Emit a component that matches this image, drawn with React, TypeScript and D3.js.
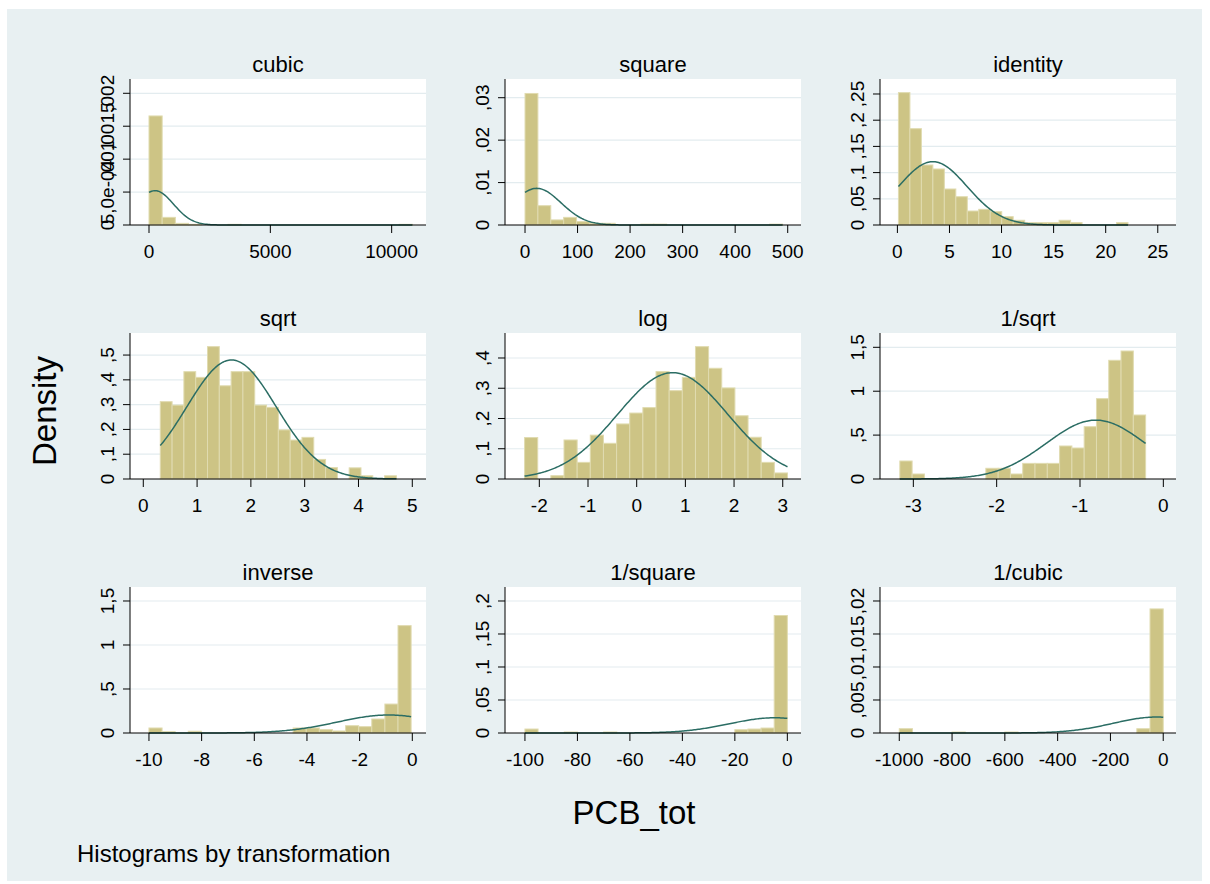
import React from 'react';
import * as d3 from 'd3';

// Panel titles (Stata gladder of PCB_tot)
const titles = ["cubic", "square", "identity", "sqrt", "log", "1/sqrt", "inverse", "1/square", "1/cubic"];

// Data range of each transformed variable (bins span min..max)
const binLo = [0.001, 0.01, 0.1, 0.316, -2.303, -3.162, -10, -100, -1000];
const binHi = [10852, 490.2, 22.14, 4.705, 3.0975, -0.2125, -0.0452, -0.002, -0.0001];

// Bar heights (density), 20 bins per panel
const cubicDensity = [0.001656, 0.000116, 0.000025, 0.00001, 0, 0, 0.00001, 0, 0, 0, 0, 0, 0, 0, 0, 0, 0, 0, 0, 0.00001];
const squareDensity = [0.031, 0.00455, 0.0012, 0.0018, 0.0008, 0.0004, 0.0004, 0, 0, 0.0002, 0.0002, 0, 0, 0, 0, 0, 0, 0, 0, 0.0002];
const identityDensity = [0.2526, 0.1838, 0.1145, 0.1069, 0.0687, 0.054, 0.0267, 0.0299, 0.0254, 0.0159, 0.009, 0.0045, 0.0045, 0.0045, 0.009, 0.0045, 0, 0, 0, 0.0045];
const sqrtDensity = [0.312, 0.298, 0.433, 0.41, 0.534, 0.376, 0.433, 0.433, 0.298, 0.289, 0.198, 0.157, 0.168, 0.079, 0.046, 0, 0.045, 0.013, 0, 0.013];
const logDensity = [0.137, 0, 0.011, 0.129, 0.055, 0.145, 0.118, 0.182, 0.218, 0.236, 0.355, 0.292, 0.336, 0.4375, 0.366, 0.301, 0.209, 0.138, 0.055, 0.02];
const invSqrtDensity = [0.205, 0.057, 0, 0, 0, 0, 0, 0.122, 0.122, 0.057, 0.178, 0.178, 0.178, 0.376, 0.353, 0.596, 0.915, 1.352, 1.458, 0.729];
const inverseDensity = [0.057, 0.015, 0, 0.02, 0, 0, 0, 0, 0, 0, 0, 0.057, 0.057, 0.038, 0.023, 0.083, 0.072, 0.159, 0.329, 1.22];
const invSquareDensity = [0.006, 0, 0, 0.0015, 0, 0, 0.0015, 0, 0, 0, 0, 0, 0, 0, 0, 0, 0.005, 0.006, 0.0075, 0.178];
const invCubicDensity = [0.00065, 0, 0, 0, 0.00015, 0, 0, 0, 0.00015, 0, 0, 0, 0, 0, 0, 0, 0, 0, 0.00065, 0.0188];

// Overlaid normal density: mean and sd per panel
const normalMean = [247, 22.3, 3.4, 1.64, 0.74, -0.81, -0.9, -4.8, -25];
const normalSd = [765, 46.2, 3.3, 0.831, 1.135, 0.595, 1.95, 17.3, 165];

// Axis ticks
const xTicks = [
  [0, 5000, 10000],
  [0, 100, 200, 300, 400, 500],
  [0, 5, 10, 15, 20, 25],
  [0, 1, 2, 3, 4, 5],
  [-2, -1, 0, 1, 2, 3],
  [-3, -2, -1, 0],
  [-10, -8, -6, -4, -2, 0],
  [-100, -80, -60, -40, -20, 0],
  [-1000, -800, -600, -400, -200, 0],
];
const yTicks = [
  [0, 0.0005, 0.001, 0.0015, 0.002],
  [0, 0.01, 0.02, 0.03],
  [0, 0.05, 0.1, 0.15, 0.2, 0.25],
  [0, 0.1, 0.2, 0.3, 0.4, 0.5],
  [0, 0.1, 0.2, 0.3, 0.4],
  [0, 0.5, 1, 1.5],
  [0, 0.5, 1, 1.5],
  [0, 0.05, 0.1, 0.15, 0.2],
  [0, 0.005, 0.01, 0.015, 0.02],
];
const yTickLabels = [
  ["0", "5,0e-04", ",001", ",0015", ",002"],
  ["0", ",01", ",02", ",03"],
  ["0", ",05", ",1", ",15", ",2", ",25"],
  ["0", ",1", ",2", ",3", ",4", ",5"],
  ["0", ",1", ",2", ",3", ",4"],
  ["0", ",5", "1", "1,5"],
  ["0", ",5", "1", "1,5"],
  ["0", ",05", ",1", ",15", ",2"],
  ["0", ",005", ",01", ",015", ",02"],
];

// Axis extents (value at plot-region edges)
const xDomains = [
  [-783, 11415], [-38.1, 525.3], [-1.67, 26.75],
  [-0.247, 5.255], [-2.705, 3.375], [-3.4, 0.152],
  [-10.72, 0.52], [-107.6, 5.21], [-1073, 48.4],
];
const yMax = [0.002217, 0.03441, 0.2786, 0.589, 0.4826, 1.663, 1.659, 0.2212, 0.02212];

const densities = [cubicDensity, squareDensity, identityDensity, sqrtDensity, logDensity,
  invSqrtDensity, inverseDensity, invSquareDensity, invCubicDensity];

const FONT = '"Liberation Sans", Arial, Helvetica, sans-serif';
const colLeft = [130, 505, 880];
const rowBottom = [225, 479, 733];
const plotW = 296;
const plotH = 146;

function Panel({ i }: { i: number }) {
  const left = colLeft[i % 3];
  const bottom = rowBottom[Math.floor(i / 3)];
  const top = bottom - plotH;
  const right = left + plotW;

  const x = d3.scaleLinear().domain(xDomains[i]).range([left, right]);
  const y = d3.scaleLinear().domain([0, yMax[i]]).range([bottom, top]);

  const heights = densities[i];
  const w = (binHi[i] - binLo[i]) / heights.length;

  const mu = normalMean[i];
  const sd = normalSd[i];
  const pts = d3.range(0, 201).map(k => {
    const v = binLo[i] + (binHi[i] - binLo[i]) * k / 200;
    const d = Math.exp(-((v - mu) ** 2) / (2 * sd * sd)) / (sd * Math.sqrt(2 * Math.PI));
    return [v, d] as [number, number];
  });
  const line = d3.line<[number, number]>().x(d => x(d[0])).y(d => y(d[1]));

  return (
    <g>
      <rect x={left} y={top} width={plotW} height={plotH} fill="#ffffff" />
      {yTicks[i].filter(t => t !== 0).map((t, k) => (
        <line key={k} x1={left} x2={right} y1={y(t)} y2={y(t)} stroke="#e3ecef" strokeWidth={1.2} />
      ))}
      {heights.map((h, k) => h > 0 ? (
        <rect key={k}
          x={x(binLo[i] + k * w)}
          y={y(h)}
          width={x(binLo[i] + (k + 1) * w) - x(binLo[i] + k * w)}
          height={y(0) - y(h)}
          fill="#cdc485" stroke="#e0dbb0" strokeWidth={1} />
      ) : null)}
      <path d={line(pts) || ""} fill="none" stroke="#2b6d64" strokeWidth={1.5} />
      <line x1={left} x2={left} y1={top} y2={bottom} stroke="#000" strokeWidth={1} />
      <line x1={left} x2={right} y1={bottom} y2={bottom} stroke="#000" strokeWidth={1} />
      {yTicks[i].map((t, k) => (
        <g key={k}>
          <line x1={left - 7} x2={left} y1={y(t)} y2={y(t)} stroke="#000" strokeWidth={1} />
          <text transform={`translate(${left - 16},${y(t)}) rotate(-90)`} textAnchor="middle"
            fontSize={19} fontFamily={FONT} fill="#000">{yTickLabels[i][k]}</text>
        </g>
      ))}
      {xTicks[i].map((t, k) => (
        <g key={k}>
          <line x1={x(t)} x2={x(t)} y1={bottom} y2={bottom + 8} stroke="#000" strokeWidth={1} />
          <text x={x(t)} y={bottom + 32.5} textAnchor="middle" fontSize={19} fontFamily={FONT} fill="#000">
            {d3.format("")(t).replace("−", "-")}
          </text>
        </g>
      ))}
      <text x={(left + right) / 2} y={top - 7.5} textAnchor="middle" fontSize={22} fontFamily={FONT} fill="#000">
        {titles[i]}
      </text>
    </g>
  );
}

export default function App() {
  return (
    <svg width={1210} height={884} style={{ position: 'absolute', left: 0, top: 0 }}>
      <rect x={0} y={0} width={1210} height={884} fill="#ffffff" />
      <rect x={7} y={9} width={1195} height={872} fill="#e8f0f2" />
      {titles.map((_, i) => <Panel key={i} i={i} />)}
      <text transform="translate(56,411) rotate(-90)" textAnchor="middle" fontSize={33} fontFamily={FONT} fill="#000">
        Density
      </text>
      <text x={634} y={824} textAnchor="middle" fontSize={33} fontFamily={FONT} fill="#000">PCB_tot</text>
      <text x={77} y={862} fontSize={24} fontFamily={FONT} fill="#000">Histograms by transformation</text>
    </svg>
  );
}
